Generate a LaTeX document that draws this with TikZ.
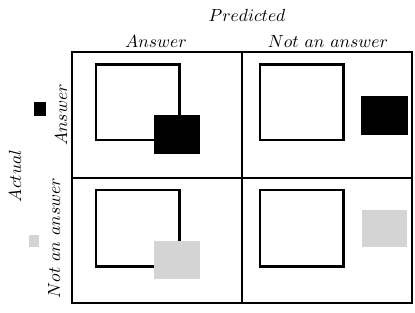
\documentclass[tikz,border=0pt]{standalone}
\usepackage{amsmath, amssymb}
\usepackage{xcolor}
\definecolor{pale}{gray}{0.83}

\begin{document}
\begin{tikzpicture}[x=0.02cm, y=-0.02cm]
\useasboundingbox (0,0) rectangle (415,312);
\draw[line width=0.8pt] (72,52) rectangle (412,303);
\draw[line width=0.8pt] (242,52) -- (242,303); \draw[line width=0.8pt] (72,178) -- (412,178);
\draw[line width=1.5pt] (96,64.5) rectangle (179.5,140);
\fill[black] (154,114.5) rectangle (200,153.5);
\draw[line width=1.5pt] (260,64.5) rectangle (343.5,140);
\fill[black] (361,96) rectangle (407.5,134.5);
\draw[line width=1.5pt] (96,190) rectangle (179.5,266.5);
\fill[pale] (154,241) rectangle (199.5,278.5);
\draw[line width=1.5pt] (260,190) rectangle (343.5,266.5);
\fill[pale] (361.5,209.5) rectangle (407,247);
\fill[black] (34,102) rectangle (45.5,115.5);
\fill[pale] (28.5,235) rectangle (39,246.5);
\node (predicted) at (247,15) {$Predicted$};
\node (colans) at (156,41) {$Answer$};
\node (colnot) at (328,41) {$Not\ an\ answer$};
\node[rotate=90] (rowans) at (61,115) {$Answer$};
\node[rotate=90] (rownot) at (54,238) {$Not\ an\ answer$};
\node[rotate=90] (actual) at (15,176) {$Actual$};
\end{tikzpicture}
\end{document}
